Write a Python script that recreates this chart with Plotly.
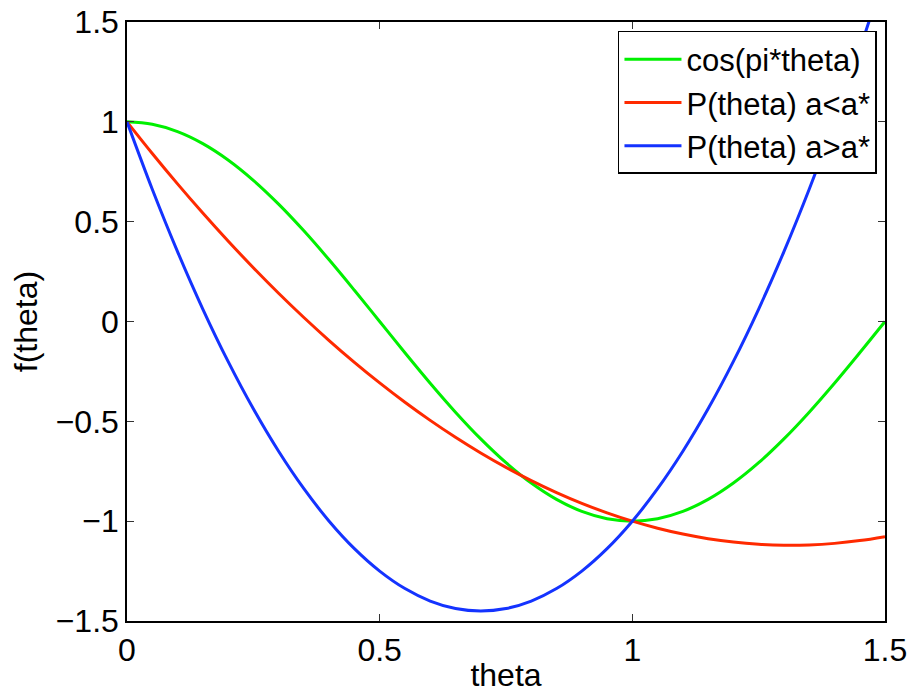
import plotly.graph_objects as go

theta = [0.00, 0.05, 0.10, 0.15, 0.20, 0.25, 0.30, 0.35, 0.40, 0.45,
         0.50, 0.55, 0.60, 0.65, 0.70, 0.75, 0.80, 0.85, 0.90, 0.95,
         1.00, 1.05, 1.10, 1.15, 1.20, 1.25, 1.30, 1.35, 1.40, 1.45, 1.50]

cos_pi_theta = [1.0, 0.9877, 0.9511, 0.8910, 0.8090, 0.7071, 0.5878, 0.4540, 0.3090, 0.1564,
                0.0, -0.1564, -0.3090, -0.4540, -0.5878, -0.7071, -0.8090, -0.8910, -0.9511, -0.9877,
                -1.0, -0.9877, -0.9511, -0.8910, -0.8090, -0.7071, -0.5878, -0.4540, -0.3090, -0.1564, 0.0]

p_low = [1.0, 0.8416, 0.6893, 0.5432, 0.4032, 0.2694, 0.1417, 0.0202, -0.0952, -0.2044,
         -0.3075, -0.4044, -0.4952, -0.5798, -0.6583, -0.7306, -0.7968, -0.8568, -0.9107, -0.9584,
         -1.0, -1.0354, -1.0647, -1.0878, -1.1048, -1.1156, -1.1203, -1.1188, -1.1112, -1.0974, -1.0775]

p_high = [1.0, 0.6625, 0.35, 0.0625, -0.2, -0.4375, -0.65, -0.8375, -1.0, -1.1375,
          -1.25, -1.3375, -1.4, -1.4375, -1.45, -1.4375, -1.4, -1.3375, -1.25, -1.1375,
          -1.0, -0.8375, -0.65, -0.4375, -0.2, 0.0625, 0.35, 0.6625, 1.0, 1.3625, 1.75]

names = ["cos(pi*theta)", "P(theta) a<a*", "P(theta) a>a*"]
colors = ["#00f000", "#ff2a00", "#1433ff"]
series = [cos_pi_theta, p_low, p_high]

x_ticks = [0, 0.5, 1, 1.5]
y_ticks = [-1.5, -1, -0.5, 0, 0.5, 1, 1.5]

FONT = "Liberation Sans, Arial, Helvetica, sans-serif"

fig = go.Figure()
for name, color, ys in zip(names, colors, series):
    fig.add_trace(go.Scatter(x=theta, y=ys, mode="lines", name=name,
                             line=dict(color=color, width=3, shape="spline")))

axis_common = dict(showline=True, linecolor="black", linewidth=1.5, mirror="ticks",
                   ticks="inside", ticklen=7, tickwidth=1, tickcolor="#333",
                   showgrid=False, zeroline=False, automargin=False,
                   tickfont=dict(family=FONT, size=32, color="black"))

fig.update_xaxes(range=[0, 1.5], tickvals=x_ticks, ticktext=["0", "0.5", "1", "1.5"],
                 title=dict(text="theta", font=dict(family=FONT, size=32, color="black"), standoff=2),
                 **axis_common)
fig.update_yaxes(range=[-1.5, 1.5], tickvals=y_ticks,
                 ticktext=["\u22121.5", "\u22121", "\u22120.5", "0", "0.5", "1", "1.5"],
                 title=dict(text="f(theta)", font=dict(family=FONT, size=32, color="black"), standoff=8),
                 **axis_common)

fig.update_layout(
    width=911, height=693,
    margin=dict(l=127, r=26, t=22, b=72),
    paper_bgcolor="white", plot_bgcolor="white",
    showlegend=True,
    legend=dict(x=0.9894, y=0.985, xanchor="right", yanchor="top",
                bgcolor="white", bordercolor="black", borderwidth=1.5,
                font=dict(family=FONT, size=31, color="black"),
                tracegroupgap=0, itemwidth=57),
)

fig.write_html("out.html")
